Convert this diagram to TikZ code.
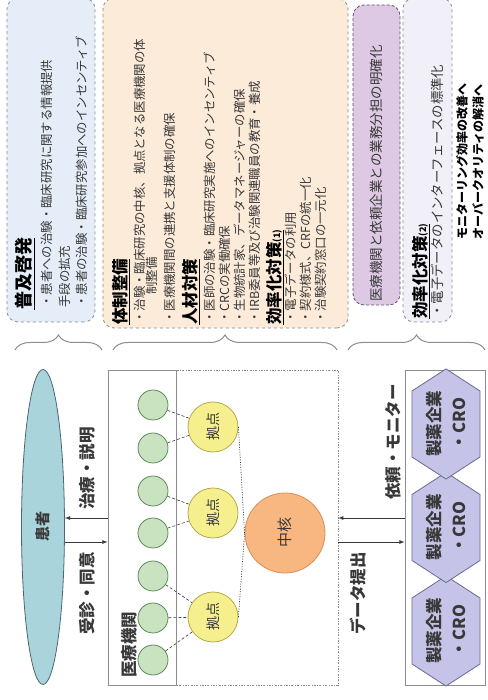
\documentclass[tikz,border=0pt]{standalone}
\usepackage{fontspec}
\setmainfont{Noto Sans CJK JP}
\usetikzlibrary{shapes.geometric,shapes.symbols,decorations.pathreplacing}

\definecolor{bluebox}{HTML}{E4EDF8}
\definecolor{orangebox}{HTML}{FDEBD9}
\definecolor{purplebox}{HTML}{DDC9E3}
\definecolor{purpleline}{HTML}{5E4F6E}
\definecolor{lavbox}{HTML}{F1F0F8}
\definecolor{boxgray}{HTML}{8C8C8C}
\definecolor{textgray}{HTML}{383838}
\definecolor{kanjafill}{HTML}{A9D4DB}
\definecolor{kanjaline}{HTML}{4C6674}
\definecolor{greenfill}{HTML}{C9E2C0}
\definecolor{greenline}{HTML}{5E8A5B}
\definecolor{yellowfill}{HTML}{F6EF8E}
\definecolor{yellowline}{HTML}{B5AA4C}
\definecolor{corefill}{HTML}{F8B680}
\definecolor{coreline}{HTML}{D69058}
\definecolor{hexfill}{HTML}{C6C3E8}
\definecolor{hexline}{HTML}{6C6990}

\newcommand{\fsz}[1]{\fontsize{#1}{#1}\selectfont}

\tikzset{
  notebox/.style={draw=boxgray, dashed, rounded corners=11pt, line width=0.8pt},
  member/.style={circle, draw=greenline, fill=greenfill, minimum size=30pt, inner sep=0pt, line width=0.8pt},
  hub/.style={circle, draw=yellowline, fill=yellowfill, minimum size=50pt, inner sep=0pt, line width=0.8pt, font=\fsz{14}, text=textgray},
  firm/.style={signal, signal to=west and east, signal pointer angle=114, draw=hexline, fill=hexfill,
    minimum width=104pt, minimum height=68pt, inner sep=0pt, align=center, line width=0.8pt,
    font=\fontsize{16.5}{25}\selectfont\bfseries, text=textgray},
  bodytext/.style={anchor=west, inner sep=0pt, font=\fsz{12.4}, text=textgray},
  headtext/.style={anchor=west, inner sep=0pt, font=\fsz{16.5}\bfseries},
  flowlabel/.style={inner sep=0pt, font=\fsz{16.5}\bfseries, text=textgray},
  flow/.style={->, >=latex, draw=textgray, line width=0.8pt},
  link/.style={densely dashed, draw=textgray, line width=0.6pt},
  corelink/.style={dash pattern=on 1pt off 1.5pt, draw=textgray, line width=0.7pt},
  bracket/.style={decorate, decoration={brace, amplitude=15pt}, draw=boxgray, line width=1pt}
}

\begin{document}
\begin{tikzpicture}[x=1pt, y=1pt, rotate=90, transform shape]
\useasboundingbox (0,0) rectangle (700,487);

% patient
\node[ellipse, draw=kanjaline, fill=kanjafill, minimum width=315pt, minimum height=43pt,
  line width=0.8pt, font=\fsz{15}\bfseries, text=textgray] (kanja) at (173,444) {患者};

% medical institutions and their network
\node[draw=boxgray, dash pattern=on 2pt off 1.5pt on 0.6pt off 1.5pt, minimum width=315pt,
  minimum height=230pt, inner sep=0pt] (network) at (172.5,264) {};
\node[draw=boxgray, minimum width=315pt, minimum height=68pt, inner sep=0pt, line width=0.8pt] (kikan) at (172.5,345) {};
\node[anchor=west, inner sep=0pt, font=\fsz{16.5}\bfseries, text=textgray] (kikanlabel) at (22,358) {医療機関};

\foreach \i/\x in {1/40,2/82,3/124,4/167,5/209,6/252,7/295}
  \node[member] (g\i) at (\x,334) {};

\node[hub] (k1) at (83,274) {拠点};
\node[hub] (k2) at (187,274) {拠点};
\node[hub] (k3) at (273,274) {拠点};

\foreach \g/\k in {1/1,2/1,3/1,4/2,5/2,6/3,7/3}
  \draw[link] (g\g) -- (k\k);

\node[circle, draw=coreline, fill=corefill, minimum size=80pt, inner sep=0pt, line width=0.8pt,
  font=\fsz{15}, text=textgray] (chukaku) at (167,202) {中核};
\draw[corelink] (k1.south) -- (chukaku.north);
\draw[corelink] (k3.south) -- (chukaku.north);

% sponsors
\node[draw=boxgray, minimum width=315pt, minimum height=80pt, inner sep=0pt, line width=0.8pt] (kigyo) at (172.5,42) {};
\foreach \i/\x in {1/69,2/172.5,3/276}
  \node[firm] (f\i) at (\x,41) {製薬企業\\・CRO};

% flows
\draw[flow] ([xshift=-15pt]kanja.south) -- ([xshift=-14.5pt]kikan.north);
\draw[flow] ([xshift=9.5pt]kikan.north) -- ([xshift=9pt]kanja.south);
\draw[flow] ([xshift=-14.5pt]network.south) -- ([xshift=-14.5pt]kigyo.north);
\draw[flow] ([xshift=9.5pt]kigyo.north) -- ([xshift=9.5pt]network.south);
\node[flowlabel, anchor=east] (jushin) at (148,400) {受診・同意};
\node[flowlabel, anchor=west] (chiryo) at (190,400) {治療・説明};
\node[flowlabel, anchor=east] (teishutsu) at (148,129) {データ提出};
\node[flowlabel, anchor=west] (irai) at (200,94) {依頼・モニター};

% braces
\draw[bracket] (350,472) -- (350,385);
\draw[bracket] (350,374) -- (350,150);
\draw[bracket] (350,139) -- (350,2);

% measures
\draw[notebox, fill=bluebox] (378,392) rectangle (702,480);
\node[headtext, font=\fsz{18}\bfseries] (fukyu) at (390,462) {\underline{普及啓発}};
\node[bodytext] (fukyu1) at (392,440) {・患者への治験・臨床研究に関する情報提供};
\node[bodytext] (fukyu2) at (392,422) {手段の拡充};
\node[bodytext] (fukyu3) at (392,405) {・患者の治験・臨床研究参加へのインセンティブ};

\draw[notebox, fill=orangebox] (372,139) rectangle (702,384);
\node[headtext] (taisei) at (375,366) {\underline{体制整備}};
\node[bodytext] (taisei1) at (376,347) {・治験・臨床研究の中核、拠点となる医療機関の体};
\node[bodytext] (taisei1b) at (405,335) {制整備};
\node[bodytext] (taisei2) at (376,317) {・医療機関間の連携と支援体制の確保};
\node[headtext] (jinzai) at (375,296) {\underline{人材対策}};
\node[bodytext] (jinzai1) at (376,277) {・医師の治験・臨床研究実施へのインセンティブ};
\node[bodytext] (jinzai2) at (376,262) {・CRCの実働確保};
\node[bodytext] (jinzai3) at (376,247) {・生物統計家、データマネージャーの確保};
\node[bodytext] (jinzai4) at (376,232) {・IRB委員等及び治験関連職員の教育・養成};
\node[headtext] (koritsu) at (375,212) {\underline{効率化対策{\fsz{9}(1)}}};
\node[bodytext] (koritsu1) at (376,196) {・電子データの利用};
\node[bodytext] (koritsu2) at (376,181) {・契約様式、CRFの統一化};
\node[bodytext] (koritsu3) at (376,166) {・治験契約窓口の一元化};

\draw[notebox, draw=purpleline, densely dashed, fill=purplebox] (395,87) rectangle (695,134);
\node[bodytext, font=\fsz{13.5}] (buntan) at (398,111) {医療機関と依頼企業との業務分担の明確化};

\draw[notebox, fill=lavbox] (378,35) rectangle (702,84);
\node[headtext] (koritsub) at (381,66) {\underline{効率化対策{\fsz{9}(2)}}};
\node[bodytext, font=\fsz{13.4}] (koritsub1) at (382,50) {・電子データのインターフェースの標準化};

\node[bodytext, font=\fsz{12}\bfseries, text=black] (kaizen) at (460,25) {モニターリング効率の改善へ};
\node[bodytext, font=\fsz{12}\bfseries, text=black] (kaisho) at (460,9) {オーバークオリティの解消へ};
\end{tikzpicture}
\end{document}
